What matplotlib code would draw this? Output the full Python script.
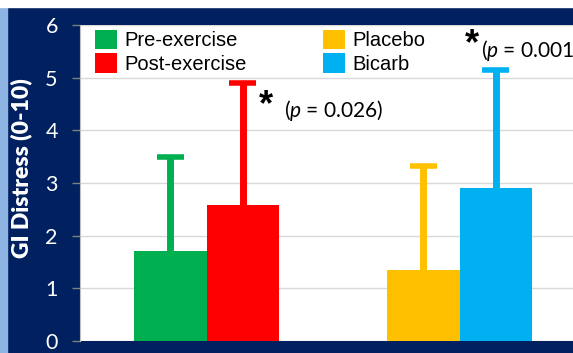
import matplotlib.pyplot as plt
from matplotlib.patches import Rectangle

plt.rcParams['font.family'] = ['Lato', 'DejaVu Sans']
plt.rcParams['mathtext.fontset'] = 'custom'
plt.rcParams['mathtext.rm'] = 'Lato'
plt.rcParams['mathtext.it'] = 'Lato:italic'

NAVY = '#002060'

# GI distress scores, mean and upper SD
series = ["Pre-exercise", "Post-exercise", "Placebo", "Bicarb"]
group = [0, 0, 1, 1]
means = [1.7, 2.58, 1.35, 2.9]
sds = [1.8, 2.31, 1.97, 2.25]
colors = ['#00B050', '#FF0000', '#FFC000', '#00B0F0']
offset = [-0.143, 0.143, -0.143, 0.143]
bar_w = 0.286
cap_w = 0.107

fig = plt.figure(figsize=(5.73, 3.53), dpi=100, facecolor=NAVY)
fig.add_artist(Rectangle((0, 0), 7 / 573, 1, transform=fig.transFigure,
                         color='#8DB4E2', zorder=0))
fig.add_artist(Rectangle((0, 1 - 7 / 353), 1, 7 / 353, transform=fig.transFigure,
                         color='white', zorder=0))

ax = fig.add_axes([80 / 573, 12 / 353, 506 / 573, 316 / 353])
ax.set_facecolor('white')

for i in range(len(series)):
    x = group[i] + offset[i]
    top = means[i] + sds[i]
    ax.bar(x, means[i], width=bar_w, color=colors[i], label=series[i], zorder=3)
    # upper error bar only
    ax.vlines(x, means[i], top, color=colors[i], linewidth=5, zorder=2)
    ax.hlines(top, x - cap_w / 2, x + cap_w / 2, color=colors[i],
              linewidth=4, zorder=2)

ax.set_xlim(-0.5, 1.5)
ax.set_ylim(0, 6)
ax.set_yticks(range(7))
ax.set_xticks([])
ax.grid(axis='y', color='#D9D9D9', linewidth=1, zorder=0)
ax.set_axisbelow(True)
for s in ['top', 'right', 'bottom']:
    ax.spines[s].set_visible(False)
ax.spines['left'].set_color('#BFBFBF')
ax.tick_params(axis='y', colors='#7F7F7F', length=6, width=1, pad=10,
               labelcolor='white', labelsize=15.5)

ax.set_ylabel("GI Distress (0-10)", color='white', fontsize=16.5,
              fontweight='heavy')
ax.yaxis.set_label_coords(-0.095, 0.546)

ax.legend(loc='upper left', bbox_to_anchor=(0.03, 0.985), ncol=2,
          frameon=False, handlelength=1.1, handleheight=1.1,
          handletextpad=0.35, columnspacing=3.8, labelspacing=0.15,
          borderpad=0, borderaxespad=0,
          prop={'family': ['Liberation Sans'], 'size': 14.5})

# significance markers
ax.text(0.233, 4.46, "*", fontsize=26, fontweight='bold', ha='center',
        va='center', family=['Liberation Sans'])
ax.text(0.305, 4.38, r"($p$ = 0.026)", fontsize=15, ha='left', va='center')
ax.text(1.051, 5.62, "*", fontsize=26, fontweight='bold', ha='center',
        va='center', family=['Liberation Sans'])
ax.text(1.085, 5.52, r"($p$ = 0.001)", fontsize=15, ha='left', va='center')

fig.savefig("out.png", dpi=100, facecolor=NAVY)
